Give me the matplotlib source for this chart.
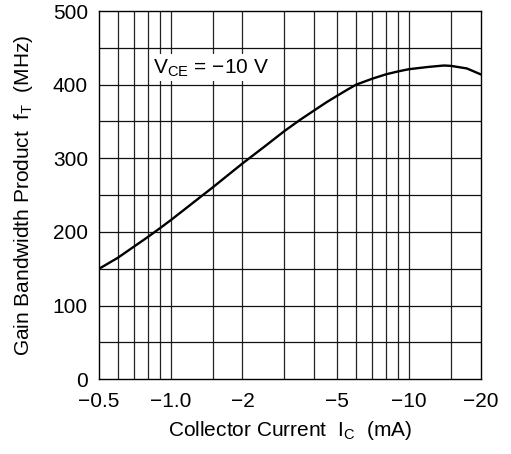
import numpy as np
import matplotlib
matplotlib.use('Agg')
import matplotlib.pyplot as plt

plt.rcParams['font.family'] = ['Liberation Sans', 'DejaVu Sans']
plt.rcParams['axes.unicode_minus'] = True

# collector current (mA, magnitude) and gain bandwidth product (MHz)
ic = [0.5, 0.6, 0.7, 0.8, 0.9, 1.0, 1.2, 1.5, 2, 2.5, 3, 3.5, 4, 4.5, 5, 5.5, 6, 7, 8, 9, 10, 12, 14, 15, 17.5, 20]
ft = [150, 165, 180, 193, 205, 216, 236, 260.5, 293, 317, 337, 352.5, 365, 376, 385, 393, 400, 408, 414, 418, 421, 424, 426, 425.5, 422, 414]

x_ticks = [0.5, 1, 2, 5, 10, 20]
x_ticklabels = ['\u22120.5', '\u22121.0', '\u22122', '\u22125', '\u221210', '\u221220']
x_grid = [0.6, 0.7, 0.8, 0.9, 1, 1.5, 2, 3, 4, 5, 6, 7, 8, 9, 10, 15]
y_ticks = [0, 100, 200, 300, 400, 500]
y_grid = [50, 100, 150, 200, 250, 300, 350, 400, 450]

FS = 15

fig = plt.figure(figsize=(5.11, 4.54), dpi=100)
ax = fig.add_axes([99 / 511, 1 - 379.3 / 454, (480.7 - 99) / 511, (379.3 - 11) / 454])

ax.set_xscale('log')
ax.set_xlim(0.5, 20)
ax.set_ylim(0, 500)

for g in x_grid:
    ax.axvline(g, color='#222222', lw=0.9, zorder=1)
for g in y_grid:
    ax.axhline(g, color='#111111', lw=0.9, zorder=1)

ax.plot(ic, ft, color='black', lw=1.7, zorder=3, solid_joinstyle='round')

ax.set_xticks(x_ticks)
ax.set_xticklabels(x_ticklabels, fontsize=FS)
ax.xaxis.set_minor_locator(matplotlib.ticker.NullLocator())
ax.set_yticks(y_ticks)
ax.set_yticklabels([str(v) for v in y_ticks], fontsize=FS)
ax.tick_params(axis='x', length=0, pad=9)
ax.tick_params(axis='y', length=0, pad=8)

for s in ax.spines.values():
    s.set_linewidth(1.0)
    s.set_color('black')

ax.set_xlabel('Collector Current  I$_\\mathregular{C}$  (mA)', fontsize=FS, labelpad=6)
ax.set_ylabel('Gain Bandwidth Product  f$_\\mathregular{T}$  (MHz)', fontsize=FS, labelpad=13)

ax.text(0.845, 423, 'V$_\\mathregular{CE}$ = \u221210 V', fontsize=FS, va='center', ha='left',
        zorder=4, bbox=dict(facecolor='white', edgecolor='none', pad=2))

fig.savefig('out.png', dpi=100)
